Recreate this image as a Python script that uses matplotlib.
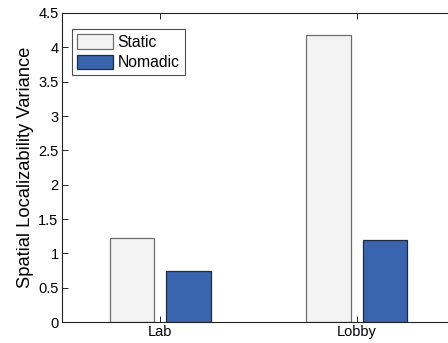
import matplotlib
matplotlib.use("Agg")
import matplotlib.pyplot as plt
import numpy as np

plt.rcParams["font.family"] = ["Liberation Sans", "DejaVu Sans"]

# bar heights per site
sites = ["Lab", "Lobby"]
static_vals = [1.23, 4.18]
nomadic_vals = [0.74, 1.20]

STATIC_FC = "#f3f3f3"
NOMADIC_FC = "#3b64ae"

fig = plt.figure(figsize=(4.48, 3.43), dpi=100)
ax = fig.add_axes([0.1384, 0.0612, 0.877, 0.9009])

x = np.arange(1, len(sites) + 1)
w = 0.227
off = 0.144
ax.bar(x - off, static_vals, w, color=STATIC_FC, edgecolor="#6e6e6e",
       linewidth=0.9, label="Static", zorder=2)
ax.bar(x + off, nomadic_vals, w, color=NOMADIC_FC, edgecolor="#1c2a44",
       linewidth=0.9, label="Nomadic", zorder=2)

ax.set_xlim(0.5, 2.5)
ax.set_ylim(0, 4.5)
ax.set_xticks(x)
ax.set_xticklabels(sites)
ax.set_yticks(np.arange(0, 4.51, 0.5))
ax.set_yticklabels(["0", "0.5", "1", "1.5", "2", "2.5", "3", "3.5", "4", "4.5"])
ax.tick_params(direction="in", length=4, width=0.6, labelsize=10.5,
               top=True, right=True, pad=2.5)
for s in ax.spines.values():
    s.set_linewidth(0.8)
    s.set_color("#222222")

ax.set_ylabel("Spatial Localizability Variance", fontsize=13.2, labelpad=3)

leg = ax.legend(loc="upper left", bbox_to_anchor=(0.026, 0.948), fontsize=11.3,
                frameon=True, fancybox=False, edgecolor="#222222",
                handlelength=2.3, handleheight=1.05, handletextpad=0.25,
                borderpad=0.33, labelspacing=0.3, borderaxespad=0)
leg.get_frame().set_linewidth(0.8)

fig.savefig("out.png", dpi=100)
